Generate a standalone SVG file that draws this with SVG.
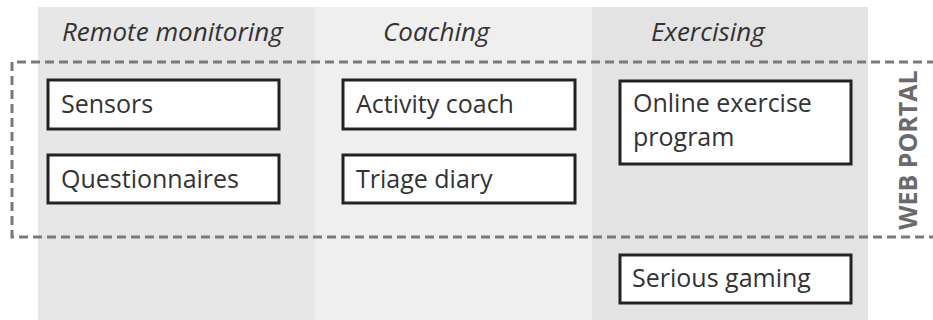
<svg xmlns="http://www.w3.org/2000/svg" width="933" height="320" viewBox="0 0 933 320">
<style>
.col1{fill:#e7e7e8}
.col2{fill:#efefef}
.col3{fill:#e3e3e4}
.title{font-family:"Open Sans","DejaVu Sans",sans-serif;font-style:italic;font-size:26px;fill:#333}
.box{fill:#fff;stroke:#222;stroke-width:3}
.lbl{font-family:"Open Sans","DejaVu Sans",sans-serif;font-size:25px;fill:#333}
.portal{fill:none;stroke:#7a7a7a;stroke-width:3;stroke-dasharray:9 5}
.portal-lbl{font-family:"Open Sans","DejaVu Sans",sans-serif;font-weight:bold;font-size:25px;fill:#6a6a6a}
</style>
<rect width="933" height="320" fill="#fff"/>
<g id="lanes">
<rect class="col1" x="38" y="7" width="277" height="313"/>
<rect class="col2" x="315" y="7" width="277" height="313"/>
<rect class="col3" x="592" y="7" width="276" height="313"/>
<text class="title" x="62" y="41">Remote monitoring</text>
<text class="title" x="383" y="41">Coaching</text>
<text class="title" x="651" y="41">Exercising</text>
</g>
<g id="web-portal">
<path class="portal" d="M936 62 H12 V237 H936"/>
<text class="portal-lbl" transform="translate(917 150) rotate(-90)" text-anchor="middle">WEB PORTAL</text>
</g>
<g id="sensors">
<rect class="box" x="48" y="80" width="231" height="49"/>
<text class="lbl" x="61" y="113">Sensors</text>
</g>
<g id="questionnaires">
<rect class="box" x="48" y="155" width="231" height="48"/>
<text class="lbl" x="61" y="188">Questionnaires</text>
</g>
<g id="activity-coach">
<rect class="box" x="343" y="80" width="232" height="49"/>
<text class="lbl" x="356" y="113">Activity coach</text>
</g>
<g id="triage-diary">
<rect class="box" x="343" y="155" width="232" height="48"/>
<text class="lbl" x="356" y="188">Triage diary</text>
</g>
<g id="online-exercise">
<rect class="box" x="620" y="81" width="231" height="83"/>
<text class="lbl" x="633" y="112">Online exercise</text>
<text class="lbl" x="633" y="146">program</text>
</g>
<g id="serious-gaming">
<rect class="box" x="620" y="255" width="231" height="48"/>
<text class="lbl" x="632" y="287">Serious gaming</text>
</g>
<g id="connectors"></g>
</svg>
